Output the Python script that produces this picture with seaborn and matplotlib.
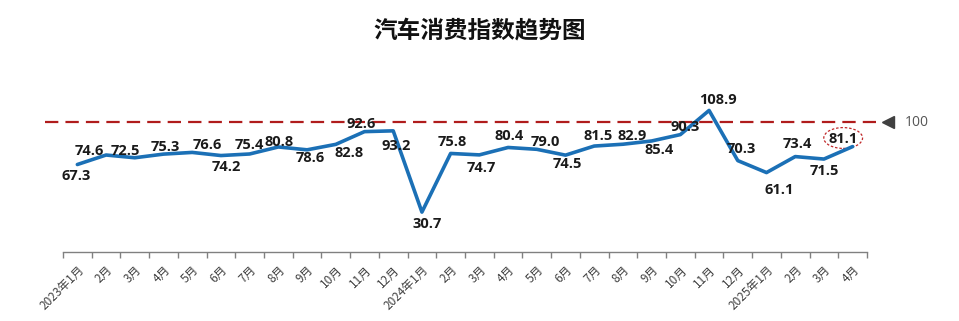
import numpy as np
import pandas as pd
import matplotlib
matplotlib.use('Agg')
import matplotlib.pyplot as plt
import seaborn as sns
from matplotlib.patches import Ellipse

months = ['2023年1月', '2月', '3月', '4月', '5月', '6月', '7月', '8月', '9月', '10月', '11月', '12月',
          '2024年1月', '2月', '3月', '4月', '5月', '6月', '7月', '8月', '9月', '10月', '11月', '12月',
          '2025年1月', '2月', '3月', '4月']
index_values = [67.3, 74.6, 72.5, 75.3, 76.6, 74.2, 75.4, 80.8, 78.6, 82.8, 92.6, 93.2,
                30.7, 75.8, 74.7, 80.4, 79.0, 74.5, 81.5, 82.9, 85.4, 90.3, 108.9, 70.3,
                61.1, 73.4, 71.5, 81.1]
baseline = 100
title = '汽车消费指数趋势图'

# label offsets in pixels (dx right, dy down) - hand tuned to match the original
label_offsets = [(-1, 11.5), (-17, -4), (-9.5, -7), (2, -7), (15, -7), (5, 11.5), (0, -9), (1, -5),
                 (3, 8), (13, 8.5), (-3, -7.5), (3, 15),
                 (5, 12), (2, -11), (1.5, 13), (1, -11), (9, -7.5), (2, 9), (4, -10), (9, -8.5),
                 (7, 9), (5, -8), (8.5, -10), (3.5, -11.5),
                 (13, 17), (2, -12.5), (0, 11.7), (-10, -7.6)]

df = pd.DataFrame({'pos': np.arange(len(months)), 'value': index_values})

sns.set_style('white')
plt.rcParams['font.family'] = ['Noto Sans CJK SC', 'DejaVu Sans']

fig = plt.figure(figsize=(9.59, 3.21), dpi=100)
ax = fig.add_axes([63 / 959, 69 / 321, (867 - 63) / 959, 156 / 321])

sns.lineplot(data=df, x='pos', y='value', ax=ax, color='#1b70b6', linewidth=2.6)

ax.set_xlim(-0.5, len(months) - 0.5)
ax.set_ylim(0, 120)
ax.set_yticks([])
ax.set_xlabel('')
ax.set_ylabel('')
for s in ['top', 'right', 'left']:
    ax.spines[s].set_visible(False)
ax.spines['bottom'].set_color('#808080')
ax.spines['bottom'].set_linewidth(1.0)

ax.set_xticks(np.arange(len(months)))
ax.set_xticklabels(months, rotation=45, ha='right', rotation_mode='anchor',
                   fontsize=8.5, color='#404040')
ax.tick_params(axis='x', which='major', length=0, pad=8)
ax.set_xticks(np.arange(len(months) + 1) - 0.5, minor=True)
ax.tick_params(axis='x', which='minor', length=4, color='#808080', width=1, bottom=True)

# baseline dashed line extending past the axes
ax.plot([-1.13, 27.8], [baseline, baseline], color='#b01c1c', linewidth=1.6,
        dashes=(6, 3.2), clip_on=False)
ax.plot([28.23], [baseline], marker='<', color='#404040', markersize=8.5, clip_on=False)
ax.text(28.8, baseline, str(baseline), fontsize=10, color='#555555',
        va='center', ha='left', family=['Open Sans', 'DejaVu Sans'])

for i, (v, (dx, dy)) in enumerate(zip(index_values, label_offsets)):
    ax.annotate(f'{v:.1f}', (i, v), xytext=(dx, -dy), textcoords='offset pixels',
                ha='center', va='center', fontsize=10.5, fontweight='bold', color='#1a1a1a',
                family=['Open Sans', 'DejaVu Sans'])

# highlight the latest value with a dotted ellipse around its label
last = len(index_values) - 1
ell = Ellipse((last - 0.33, index_values[last] + 6.6), width=1.35, height=16, fill=False,
              edgecolor='#c0282a', linestyle=(0, (2, 1.5)), linewidth=0.9, clip_on=False)
ax.add_patch(ell)

fig.text(480 / 959, 1 - 30 / 321, title, ha='center', va='center',
         fontsize=17, fontweight='heavy', color='#111111')

fig.savefig('out.png', dpi=100)
